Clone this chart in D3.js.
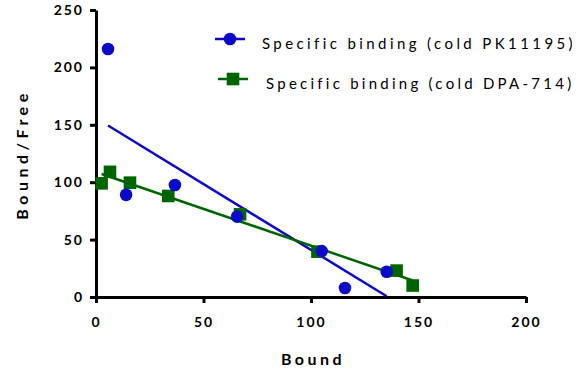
<!DOCTYPE html>
<html>
<head>
<meta charset="utf-8">
<script src="https://cdn.jsdelivr.net/npm/d3@7"></script>
<style>
  body { margin: 0; background: #fff; }
  text { font-family: Lato, "Open Sans", sans-serif; }
</style>
</head>
<body>
<div id="chart"></div>
<script>
// data
var xTicks = [0, 50, 100, 150, 200];
var yTicks = [0, 50, 100, 150, 200, 250];

var pkBound = [5.6, 14, 36.7, 65.6, 105, 115.8, 135.2];
var pkRatio = [216, 89, 97.5, 70, 40, 7.8, 22];

var dpaBound = [2.6, 6.5, 15.8, 33.6, 67, 103, 139.8, 147.3];
var dpaRatio = [99, 109, 99.6, 88, 72, 39.5, 23, 10];

var seriesNames = ["Specific binding (cold PK11195)", "Specific binding (cold DPA-714)"];

var width = 588, height = 373;
var margin = {left: 96, top: 10, right: 62, bottom: 76};

var svg = d3.select("#chart").append("svg")
  .attr("width", width)
  .attr("height", height);

var x = d3.scaleLinear().domain([0, 200]).range([margin.left, width - margin.right]);
var y = d3.scaleLinear().domain([0, 250]).range([height - margin.bottom, margin.top]);

// least squares fit, drawn over the span of the data
function fit(xs, ys) {
  var mx = d3.mean(xs), my = d3.mean(ys);
  var sxy = d3.sum(xs, function (d, i) { return (d - mx) * (ys[i] - my); });
  var sxx = d3.sum(xs, function (d) { return (d - mx) * (d - mx); });
  var b = sxy / sxx, a = my - b * mx;
  var ext = d3.extent(xs);
  return [[ext[0], a + b * ext[0]], [ext[1], a + b * ext[1]]];
}

var series = [
  {name: seriesNames[0], xs: pkBound, ys: pkRatio, color: "#0a0ac8", shape: "circle"},
  {name: seriesNames[1], xs: dpaBound, ys: dpaRatio, color: "#006400", shape: "square"}
];

var line = d3.line()
  .x(function (d) { return x(d[0]); })
  .y(function (d) { return y(d[1]); });

// axes
var xAxis = svg.append("g")
  .attr("transform", "translate(0," + y(0) + ")")
  .call(d3.axisBottom(x).tickValues(xTicks).tickSize(6).tickPadding(14).tickSizeOuter(0));
var yAxis = svg.append("g")
  .attr("transform", "translate(" + x(0) + ",0)")
  .call(d3.axisLeft(y).tickValues(yTicks).tickSize(6).tickPadding(6).tickSizeOuter(0));

[xAxis, yAxis].forEach(function (g) {
  g.select(".domain").attr("stroke", "#000").attr("stroke-width", 3);
  g.selectAll(".tick line").attr("stroke", "#000").attr("stroke-width", 3);
  g.selectAll(".tick text")
    .attr("fill", "#000")
    .style("font-size", "14px")
    .style("font-weight", "bold")
    .style("letter-spacing", "2px");
});

// fit lines
series.forEach(function (s) {
  svg.append("path")
    .datum(fit(s.xs, s.ys))
    .attr("fill", "none")
    .attr("stroke", s.color)
    .attr("stroke-width", 2.5)
    .attr("d", line);
});

// points
function drawMark(g, s, cx, cy) {
  if (s.shape === "circle") {
    g.append("circle").attr("cx", cx).attr("cy", cy).attr("r", 6.3).attr("fill", s.color);
  } else {
    g.append("rect").attr("x", cx - 6.3).attr("y", cy - 6.3)
      .attr("width", 12.6).attr("height", 12.6).attr("fill", s.color);
  }
}

// squares under circles
[series[1], series[0]].forEach(function (s) {
  var g = svg.append("g");
  s.xs.forEach(function (d, i) {
    drawMark(g, s, x(d), y(s.ys[i]));
  });
});

// legend
var legend = svg.append("g");
var legendPos = [[215, 39, 262, "3.4px"], [218, 79, 266, "3.25px"]];
series.forEach(function (s, i) {
  var lx = legendPos[i][0], ly = legendPos[i][1];
  legend.append("line")
    .attr("x1", lx).attr("x2", lx + 30)
    .attr("y1", ly).attr("y2", ly)
    .attr("stroke", s.color).attr("stroke-width", 2.5);
  drawMark(legend, s, lx + 15, ly);
  legend.append("text")
    .attr("x", legendPos[i][2]).attr("y", ly + 9.5)
    .style("font-size", "15px")
    .style("letter-spacing", legendPos[i][3])
    .attr("fill", "#000")
    .text(s.name);
});

// axis titles
svg.append("text")
  .attr("x", x(100) + 2).attr("y", 365)
  .attr("text-anchor", "middle")
  .style("font-size", "16px")
  .style("font-weight", "bold")
  .style("letter-spacing", "3.5px")
  .text("Bound");

svg.append("text")
  .attr("transform", "translate(28," + (y(125) + 1) + ") rotate(-90)")
  .attr("text-anchor", "middle")
  .style("font-size", "16px")
  .style("font-weight", "bold")
  .style("letter-spacing", "4.5px")
  .text("Bound/Free");
</script>
</body>
</html>
